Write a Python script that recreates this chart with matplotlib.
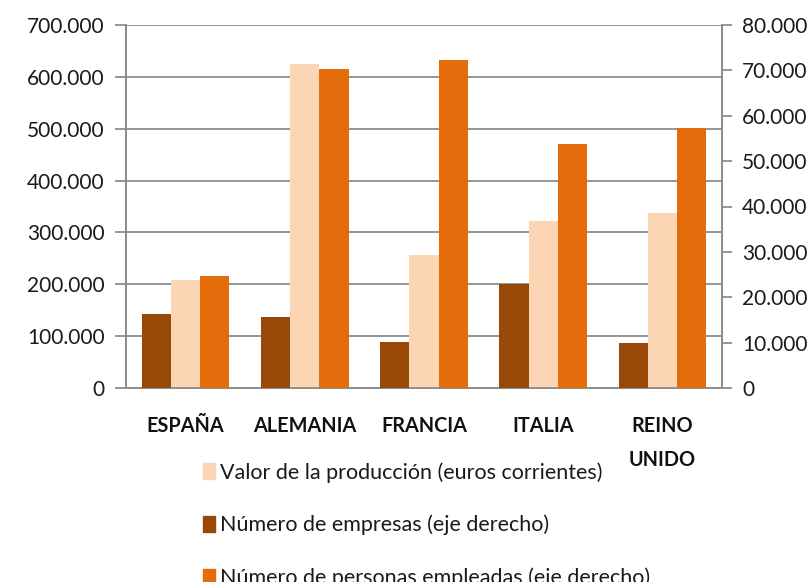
import matplotlib
matplotlib.use("Agg")
import matplotlib.pyplot as plt
import numpy as np
from matplotlib.ticker import FuncFormatter, MultipleLocator
from matplotlib.patches import Patch

plt.rcParams['font.family'] = ['Lato', 'DejaVu Sans']

categories = ["ESPAÑA", "ALEMANIA", "FRANCIA", "ITALIA", "REINO\nUNIDO"]
valor_produccion = [208000, 625000, 257000, 323000, 338000]
num_empresas = [16200, 15700, 10200, 22900, 9850]
num_personas = [24700, 70200, 72300, 53700, 57400]

legend_labels = ["Valor de la producción (euros corrientes)",
                 "Número de empresas (eje derecho)",
                 "Número de personas empleadas (eje derecho)"]

c_peach = "#FCD5B5"
c_brown = "#984807"
c_orange = "#E46C0A"
grid_c = "#8C8C8C"
txt_c = "#1a1a1a"

fig = plt.figure(figsize=(8.08, 5.82), dpi=100)
ax = fig.add_axes([126/808, 1-388/582, (722-126)/808, (388-25)/582])
ax2 = ax.twinx()

x = np.arange(len(categories))
w = 0.245

ax2.bar(x - w, num_empresas, w, color=c_brown, zorder=3)
ax.bar(x, valor_produccion, w, color=c_peach, zorder=3)
ax2.bar(x + w, num_personas, w, color=c_orange, zorder=3)

ax.set_ylim(0, 700000)
ax2.set_ylim(0, 80000)
ax.set_xlim(-0.5, len(categories) - 0.5)
ax.yaxis.set_major_locator(MultipleLocator(100000))
ax2.yaxis.set_major_locator(MultipleLocator(10000))
fmt = FuncFormatter(lambda v, p: f"{int(round(v)):,}".replace(",", "."))
ax.yaxis.set_major_formatter(fmt)
ax2.yaxis.set_major_formatter(fmt)

ax.set_axisbelow(True)
ax.grid(axis='y', color=grid_c, linewidth=1.3, zorder=0)
for a in (ax, ax2):
    a.spines['top'].set_visible(False)
    for s in ('left', 'right', 'bottom'):
        a.spines[s].set_color(grid_c)
        a.spines[s].set_linewidth(1.3)

ax.tick_params(axis='y', length=8, width=1.3, color=grid_c, labelsize=15, pad=7.5, labelcolor=txt_c)
ax2.tick_params(axis='y', length=7, width=1.3, color=grid_c, labelsize=15, pad=7.5, labelcolor=txt_c)

ax.set_xticks(np.arange(len(categories) + 1) - 0.5, minor=False)
ax.set_xticklabels([])
ax.tick_params(axis='x', which='major', length=10, width=1.3, color=grid_c)
ax.set_xticks(x, minor=True)
ax.set_xticklabels(categories, minor=True, fontweight='bold', fontsize=14.3,
                   va='top', ha='center', linespacing=1.9)
ax.tick_params(axis='x', which='minor', length=0, pad=20, labelcolor="#111111")
ax2.set_xticks([])

handles = [Patch(color=c_peach), Patch(color=c_brown), Patch(color=c_orange)]
fig.legend(handles, legend_labels, loc='upper left', bbox_to_anchor=(203/808, 1-462/582),
           frameon=False, fontsize=15.5, handlelength=0.55, handleheight=0.8,
           handletextpad=0.25, labelspacing=1.5, borderaxespad=0, borderpad=0,
           labelcolor=txt_c)

fig.savefig("out.png", dpi=100)
